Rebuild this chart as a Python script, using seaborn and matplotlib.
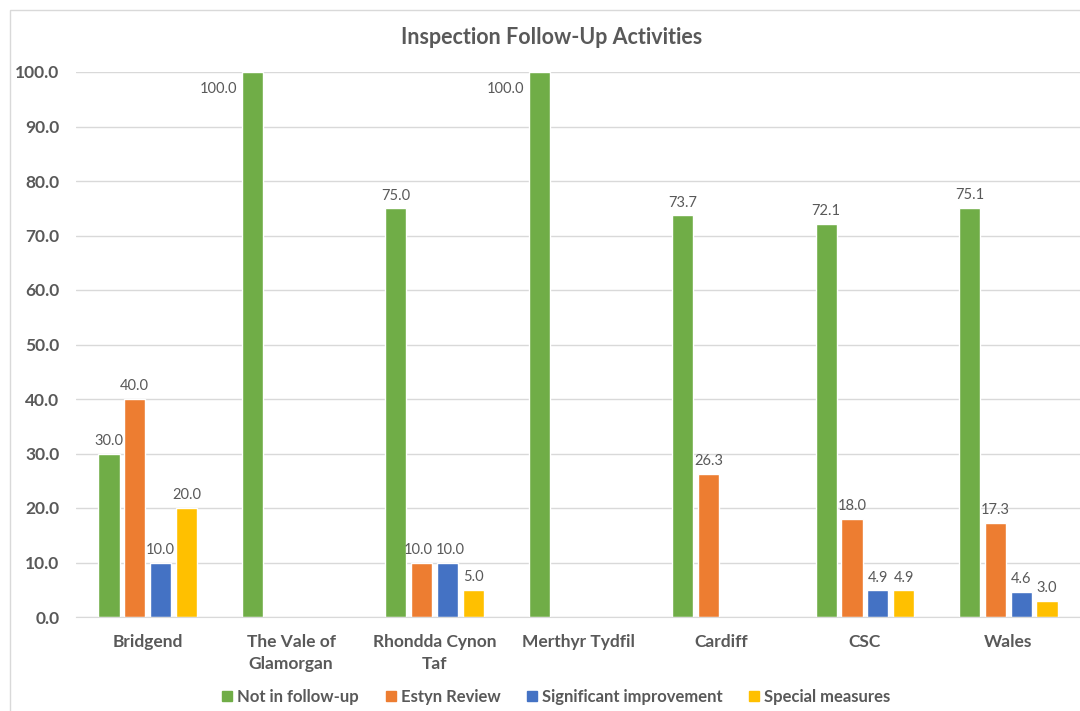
import matplotlib
matplotlib.use("Agg")
import matplotlib.pyplot as plt
import seaborn as sns
import pandas as pd
import numpy as np
from matplotlib.patches import Rectangle
from matplotlib.lines import Line2D

# data
areas = ["Bridgend", "The Vale of\nGlamorgan", "Rhondda Cynon\nTaf",
         "Merthyr Tydfil", "Cardiff", "CSC", "Wales"]
series = ["Not in follow-up", "Estyn Review",
          "Significant improvement", "Special measures"]
not_in_follow_up = [30.0, 100.0, 75.0, 100.0, 73.7, 72.1, 75.1]
estyn_review     = [40.0, None, 10.0, None, 26.3, 18.0, 17.3]
significant_imp  = [10.0, None, 10.0, None, None, 4.9, 4.6]
special_measures = [20.0, None, 5.0, None, None, 4.9, 3.0]
colors = ["#70AD47", "#ED7D31", "#4472C4", "#FFC000"]

rows = []
for name, vals in zip(series, [not_in_follow_up, estyn_review,
                               significant_imp, special_measures]):
    for area, v in zip(areas, vals):
        if v is not None:
            rows.append({"area": area, "series": name, "value": v})
df = pd.DataFrame(rows)

sns.set_style("white")
plt.rcParams["font.family"] = ["Lato", "DejaVu Sans"]
text_col = "#595959"

fig = plt.figure(figsize=(10.8, 7.11), dpi=100)
W, H = 1080, 711
ax = fig.add_axes([76 / W, (H - 617) / H, (1080 - 76) / W, (617 - 72) / H])

sns.barplot(data=df, x="area", y="value", hue="series", order=areas,
            hue_order=series, palette=colors, width=0.72, gap=0.18,
            saturation=1, legend=False, ax=ax)

ax.set_ylim(0, 100)
ax.set_yticks(np.arange(0, 101, 10))
ax.set_yticklabels([f"{t:.1f}" for t in np.arange(0, 101, 10)])
ax.yaxis.grid(True, color="#D9D9D9", linewidth=1)
ax.set_axisbelow(True)
for s in ["top", "right", "left"]:
    ax.spines[s].set_visible(False)
ax.spines["bottom"].set_color("#D9D9D9")
ax.tick_params(axis="both", length=0, colors=text_col, labelsize=12.5)
ax.tick_params(axis="y", pad=12)
ax.tick_params(axis="x", pad=12)
for lab in ax.get_xticklabels() + ax.get_yticklabels():
    lab.set_fontweight("bold")
for lab in ax.get_xticklabels():
    lab.set_linespacing(1.5)
ax.set_xlabel("")
ax.set_ylabel("")

labels = []
for cont in ax.containers:
    for bar in cont:
        h = bar.get_height()
        if np.isnan(h):
            continue
        cx = bar.get_x() + bar.get_width() / 2
        if h >= 100:
            ax.annotate(f"{h:.1f}", (bar.get_x(), h), xytext=(-3, -7),
                        textcoords="offset points", ha="right", va="top",
                        fontsize=10.5, color=text_col)
        else:
            t = ax.annotate(f"{h:.1f}", (cx, h), xytext=(0, 4),
                            textcoords="offset points", ha="center",
                            va="bottom", fontsize=10.5, color=text_col)
            labels.append(t)

# nudge labels that touch, the way Excel spreads them
fig.canvas.draw()
renderer = fig.canvas.get_renderer()
labels.sort(key=lambda t: t.xy[0])
for a, b in zip(labels, labels[1:]):
    ba = a.get_window_extent(renderer)
    bb = b.get_window_extent(renderer)
    if ba.overlaps(bb) or (bb.x0 - ba.x1 < 3 and abs(ba.y0 - bb.y0) < ba.height):
        push = (ba.x1 + 3 - bb.x0) / 2 * 72 / fig.dpi
        a.xyann = (a.xyann[0] - push, a.xyann[1])
        b.xyann = (b.xyann[0] + push, b.xyann[1])

fig.text(552 / W, 1 - 38 / H, "Inspection Follow-Up Activities",
         ha="center", va="center", fontsize=15.5, fontweight="bold",
         color=text_col)

handles = [Line2D([], [], marker="s", linestyle="none", markersize=7,
                  markerfacecolor=c, markeredgecolor=c) for c in colors]
fig.legend(handles, series, loc="center", bbox_to_anchor=(554 / W, 1 - 697 / H),
           ncol=4, frameon=False, handletextpad=0.0, handlelength=1.2,
           columnspacing=1.3, labelcolor=text_col,
           prop={"weight": "bold", "size": 12})

fig.add_artist(Rectangle((10 / W, -0.1), 1.2, (H - 10) / H + 0.1,
                         transform=fig.transFigure, fill=False,
                         edgecolor="#D9D9D9", linewidth=1))

fig.savefig("out.png", dpi=100)
